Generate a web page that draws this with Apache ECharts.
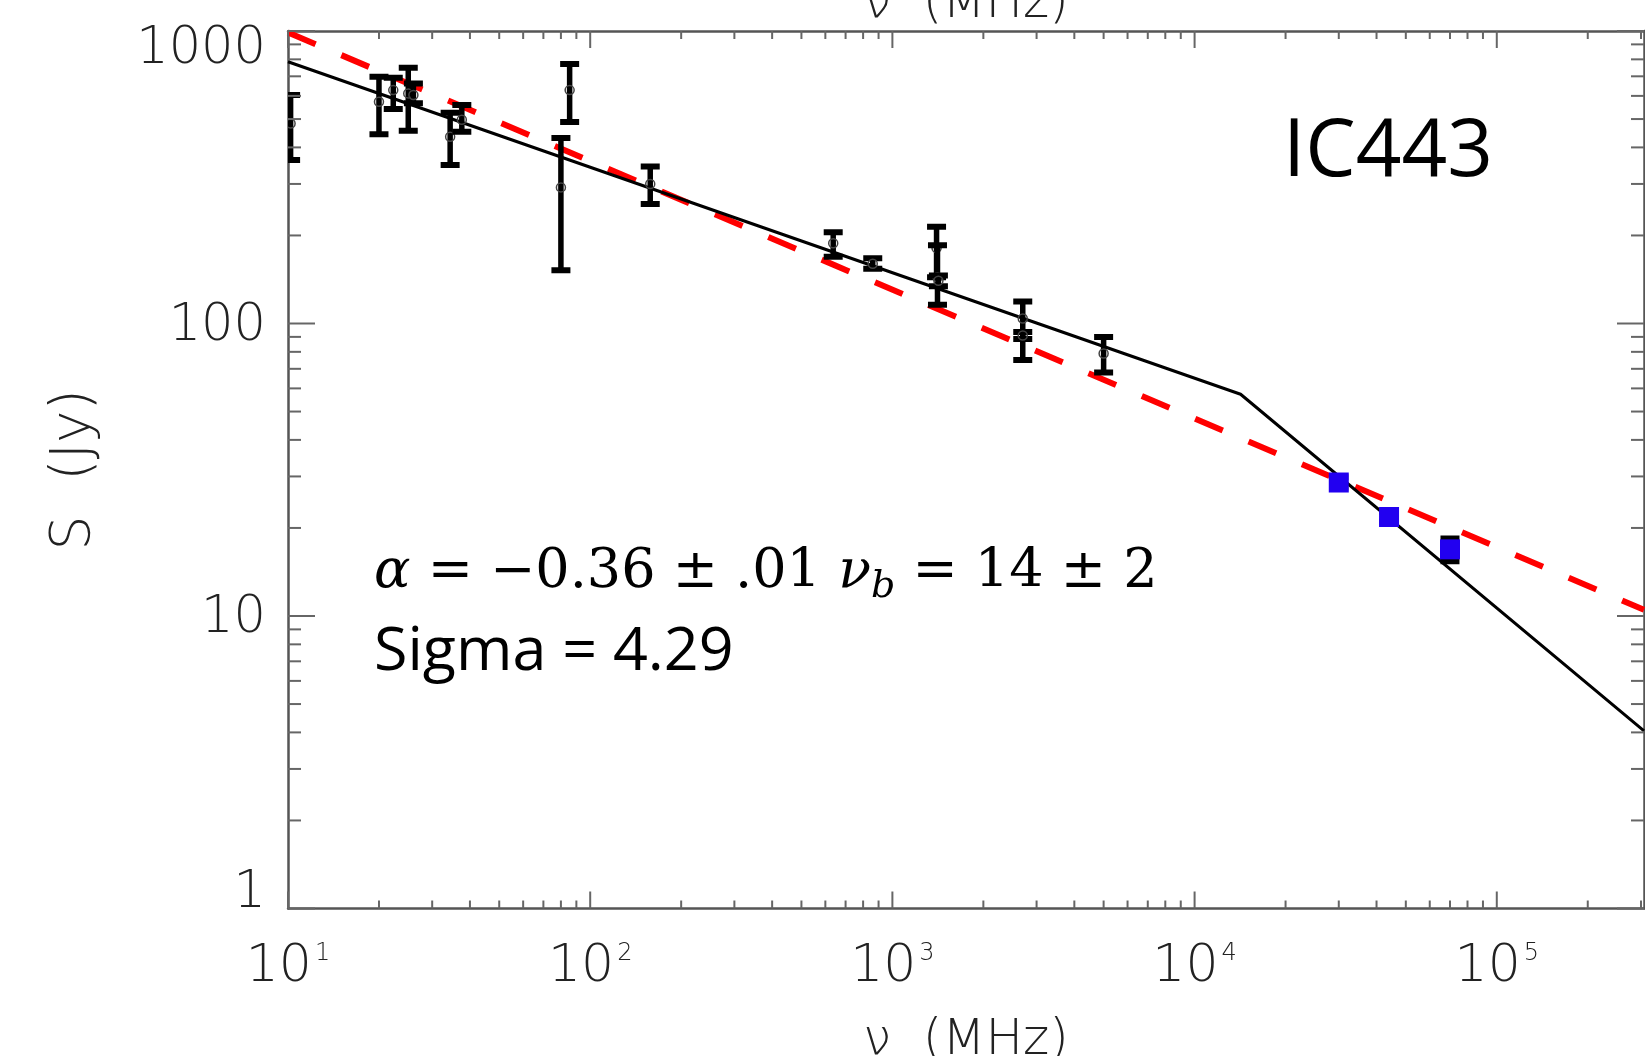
<!DOCTYPE html>
<html>
<head>
<meta charset="utf-8">
<title>IC443</title>
<style>
  html, body { margin: 0; padding: 0; background: #fff; }
  .chart_box { width: 1645px; height: 1056px; }
</style>
</head>
<body>
<div class="chart_box"></div>
<script src="https://cdn.jsdelivr.net/npm/echarts@6.0.0/dist/echarts.min.js"></script>
<script>
// 射电点: 频率 (MHz), 流量 (Jy), 误差棒下/上端
var radioFreq = [10.2, 20, 22.3, 25, 26, 34.4, 37.6, 80, 85.5, 158, 637, 861, 1400, 1410, 1420, 2700, 2700, 5000];
var radioFlux = [483, 573, 628, 612, 604, 435, 497, 292, 628, 300, 188, 160, 181, 144, 140, 104, 91, 79];
var radioLow  = [362, 444, 541, 456, 566, 348, 452, 152, 489, 256, 169, 154, 144, 116, 134, 75, 88.5, 68];
var radioHigh = [604, 698, 692, 749, 662, 525, 559, 431, 771, 344, 205, 167, 214, 185, 146, 119, 93.6, 90];

// Planck 点 (蓝色方块)
var planckFreq = [30000, 44000, 70000];
var planckFlux = [28.6, 21.8, 16.9];
var planckLow  = [27.5, 21.0, 15.4];
var planckHigh = [29.8, 22.7, 18.4];

// 折断幂律 (黑实线) 和 单一幂律 (红虚线)
var brokenFreq = [10, 14200, 307000];
var brokenFlux = [785, 57.3, 4.05];
var powerFreq = [10, 307000];
var powerFlux = [989, 10.5];

// 刻度标签
var xTickValues = [10, 100, 1000, 10000, 100000];
var xTickBase = ['10', '10', '10', '10', '10'];
var xTickPow = ['1', '2', '3', '4', '5'];
var yTickValues = [1, 10, 100, 1000];
var yTickLabels = ['1', '10', '100', '1000'];

var xMin = 10, xMax = 307000, yMin = 1, yMax = 1000;

var axisFont = 'DejaVu Sans';

function zip(a, b, c, d) {
  var out = [];
  for (var i = 0; i < a.length; i++) {
    out.push(c ? [a[i], b[i], c[i], d[i]] : [a[i], b[i]]);
  }
  return out;
}

function tickIndex(list, v) {
  for (var i = 0; i < list.length; i++) {
    if (Math.abs(Math.log10(v) - Math.log10(list[i])) < 1e-6) return i;
  }
  return -1;
}

// 对数轴的主/次刻度位置
var xTicks = [], yTicks = [];
for (var k = 0; k < 6; k++) {
  for (var m = 1; m < 10; m++) {
    var xv = m * Math.pow(10, k + 1);
    if (xv <= xMax * 1.0001) xTicks.push([xv, yMin, m === 1 ? 2 : 1]);
    var yv = m * Math.pow(10, k);
    if (yv <= yMax * 1.0001 && k < 3) yTicks.push([xMin, yv, m === 1 ? 2 : 1]);
  }
}
yTicks.push([xMin, 1000, 2]);

function line(x1, y1, x2, y2, w, c) {
  return { type: 'line', shape: { x1: x1, y1: y1, x2: x2, y2: y2 }, style: { stroke: c, lineWidth: w } };
}

function xTickItem(params, api) {
  var v = api.value(0);
  var len = api.value(2) === 2 ? 17 : 8;
  var b = api.coord([v, yMin]);
  var t = api.coord([v, yMax]);
  return { type: 'group', children: [
    line(b[0], b[1], b[0], b[1] - len, 2, '#666'),
    line(t[0], t[1], t[0], t[1] + len, 2, '#666')
  ]};
}

function yTickItem(params, api) {
  var v = api.value(1);
  var len = api.value(2) === 2 ? 27 : 13;
  var l = api.coord([xMin, v]);
  var r = api.coord([xMax, v]);
  return { type: 'group', children: [
    line(l[0], l[1], l[0] + len, l[1], 2, '#666'),
    line(r[0], r[1], r[0] - len, r[1], 2, '#666')
  ]};
}

// 误差棒
function errorItem(params, api) {
  var c = api.coord([api.value(0), api.value(1)]);
  var lo = api.coord([api.value(0), api.value(2)]);
  var hi = api.coord([api.value(0), api.value(3)]);
  var w = 9.5;
  return { type: 'group', children: [
    line(c[0], hi[1], c[0], lo[1], 5.5, '#000'),
    line(c[0] - w, hi[1], c[0] + w, hi[1], 6, '#000'),
    line(c[0] - w, lo[1], c[0] + w, lo[1], 6, '#000'),
    { type: 'circle', shape: { cx: c[0], cy: c[1], r: 4.5 }, style: { fill: null, stroke: '#444', lineWidth: 1.5 } }
  ]};
}

var myChart = echarts.init(document.querySelector('.chart_box'));

var thin = { fontFamily: axisFont, fontWeight: 200, color: '#222' };
var xLabelRich = {
  n: Object.assign({ fontSize: 52, lineHeight: 52 }, thin),
  s: Object.assign({ fontSize: 24, lineHeight: 24, verticalAlign: 'top', padding: [0, 0, 0, 3] }, thin)
};
var nameRich = {
  g: Object.assign({ fontSize: 50, lineHeight: 50 }, thin),
  n: Object.assign({ fontSize: 50, lineHeight: 50 }, thin)
};
var yLabelBase = Object.assign({ fontSize: 51, lineHeight: 51 }, thin);

var option = {
  animation: false,
  backgroundColor: '#fff',
  grid: { left: 288, top: 31, right: 1, bottom: 147.5, outerBoundsMode: 'none', containLabel: false },
  xAxis: [{
    type: 'log', logBase: 10, min: xMin, max: xMax, position: 'bottom',
    axisLine: { show: true, lineStyle: { color: '#555', width: 2.5 } },
    axisTick: { show: false }, minorTick: { show: false },
    splitLine: { show: false },
    axisLabel: {
      margin: 33,
      formatter: function (v) {
        var i = tickIndex(xTickValues, v);
        if (i < 0) return '';
        return '{n|' + xTickBase[i] + '}{s|' + xTickPow[i] + '}';
      },
      rich: xLabelRich
    },
    name: '{g|ν}{n|  (MHz)}', nameLocation: 'middle', nameGap: 108, nameMoveOverlap: false,
    nameTextStyle: { rich: nameRich }
  }, {
    type: 'log', logBase: 10, min: xMin, max: xMax, position: 'top',
    axisLine: { show: true, lineStyle: { color: '#555', width: 2.5 } },
    axisTick: { show: false }, axisLabel: { show: false }, splitLine: { show: false },
    name: '{g|ν}{n|  (MHz)}', nameLocation: 'middle', nameGap: 2, nameMoveOverlap: false,
    nameTextStyle: { rich: nameRich }
  }],
  yAxis: [{
    type: 'log', logBase: 10, min: yMin, max: yMax, position: 'left',
    axisLine: { show: true, lineStyle: { color: '#555', width: 2.5 } },
    axisTick: { show: false }, minorTick: { show: false },
    splitLine: { show: false },
    axisLabel: {
      margin: 22, showMinLabel: true, showMaxLabel: true,
      formatter: function (v) {
        var i = tickIndex(yTickValues, v);
        if (i < 0) return '';
        var key = i === yTickValues.length - 1 ? 't' : (i === 0 ? 'b' : 'm');
        return '{' + key + '|' + yTickLabels[i] + '}';
      },
      rich: {
        t: Object.assign({ padding: [38, 0, 0, 0] }, yLabelBase),
        m: Object.assign({ padding: [6, 0, 0, 0] }, yLabelBase),
        b: Object.assign({ padding: [0, 0, 30, 0] }, yLabelBase)
      }
    },
    name: 'S  (Jy)', nameLocation: 'middle', nameRotate: 90, nameGap: 186, nameMoveOverlap: false,
    nameTextStyle: Object.assign({ fontSize: 55, lineHeight: 55 }, thin)
  }, {
    type: 'log', logBase: 10, min: yMin, max: yMax, position: 'right',
    axisLine: { show: true, lineStyle: { color: '#555', width: 2.5 } },
    axisTick: { show: false }, axisLabel: { show: false }, splitLine: { show: false }
  }],
  series: [{
    name: 'power law',
    type: 'line',
    data: zip(powerFreq, powerFlux),
    showSymbol: false,
    clip: true,
    z: 2,
    lineStyle: { color: '#ff0000', width: 6, type: [30, 28] }
  }, {
    name: 'broken power law',
    type: 'line',
    data: zip(brokenFreq, brokenFlux),
    showSymbol: false,
    clip: true,
    z: 3,
    lineStyle: { color: '#000', width: 3 }
  }, {
    name: 'radio',
    type: 'custom',
    renderItem: errorItem,
    data: zip(radioFreq, radioFlux, radioLow, radioHigh),
    clip: true,
    z: 4
  }, {
    name: 'planck err',
    type: 'custom',
    renderItem: errorItem,
    data: zip(planckFreq, planckFlux, planckLow, planckHigh),
    clip: true,
    z: 4
  }, {
    name: 'planck',
    type: 'scatter',
    data: zip(planckFreq, planckFlux),
    symbol: 'rect',
    symbolSize: 20,
    itemStyle: { color: '#2200f0', opacity: 1 },
    z: 5
  }, {
    name: 'x ticks',
    type: 'custom',
    renderItem: xTickItem,
    data: xTicks,
    clip: false,
    silent: true,
    z: 6
  }, {
    name: 'y ticks',
    type: 'custom',
    renderItem: yTickItem,
    data: yTicks,
    clip: false,
    silent: true,
    z: 6
  }],
  graphic: [{
    type: 'text', x: 1388, y: 153, z: 10,
    style: {
      text: 'IC443', fontFamily: 'Open Sans', fontSize: 80, fill: '#000',
      align: 'center', verticalAlign: 'middle', textAlign: 'center', textVerticalAlign: 'middle'
    }
  }, {
    type: 'text', x: 374, y: 573, z: 10,
    style: {
      text: '{i|α}{r| = −0.36 ± .01 }{i|ν}{s|b}{r| = 14 ± 2}',
      fill: '#000', align: 'left', verticalAlign: 'middle', textAlign: 'left', textVerticalAlign: 'middle',
      rich: {
        i: { fontFamily: 'DejaVu Serif', fontSize: 54, lineHeight: 70, fontStyle: 'italic', fill: '#000' },
        r: { fontFamily: 'DejaVu Serif', fontSize: 54, lineHeight: 70, fill: '#000' },
        s: { fontFamily: 'DejaVu Serif', fontSize: 38, lineHeight: 38, fontStyle: 'italic', fill: '#000', padding: [28, 0, 0, 0] }
      }
    }
  }, {
    type: 'text', x: 374, y: 653, z: 10,
    style: {
      text: 'Sigma = 4.29', fontFamily: 'Open Sans', fontSize: 61, fill: '#000',
      align: 'left', verticalAlign: 'middle', textAlign: 'left', textVerticalAlign: 'middle'
    }
  }]
};

myChart.setOption(option);
</script>
</body>
</html>
